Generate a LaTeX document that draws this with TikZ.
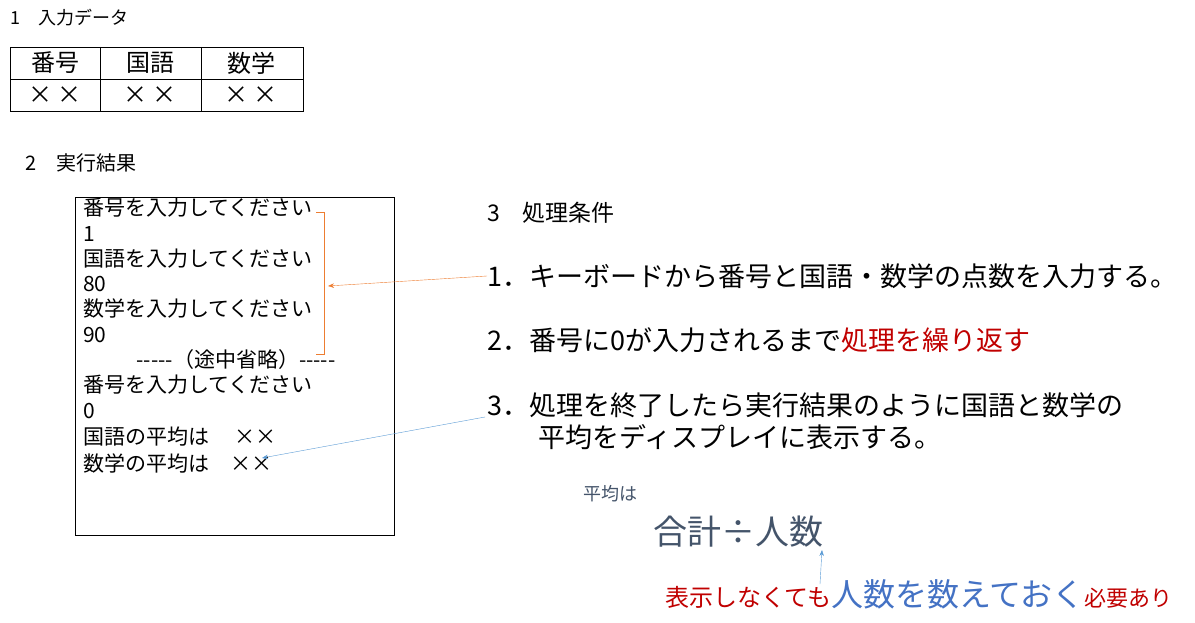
\documentclass[tikz,border=0pt]{standalone}
\usepackage{fontspec}
\setmainfont{Noto Sans CJK JP}
\usetikzlibrary{arrows.meta}
\definecolor{ored}{HTML}{C00000}
\definecolor{oorange}{HTML}{ED7D31}
\definecolor{oblue}{HTML}{5B9BD5}
\definecolor{tblue}{HTML}{4472C4}
\definecolor{slate}{HTML}{44546A}
\tikzset{t/.style={anchor=west,inner sep=0pt},
 fs/.style={font=\fontsize{#1}{#1}\selectfont}}
\begin{document}
\begin{tikzpicture}[x=1pt,y=-1pt]
\useasboundingbox (0,0) rectangle (1195,623);
% section 1
\node[t,fs=18] (h1) at (10,18) {1\quad 入力データ};
\draw (10,47) rectangle (303,111);
\draw (10,79) -- (303,79) (100,47) -- (100,111) (201,47) -- (201,111);
\foreach \x/\s in {55/番号,150/国語,251/数学}{\node[fs=24] at (\x,63) {\s};\node[fs=24] at (\x,95) {× ×};}
% section 2
\node[t,fs=20] (h2) at (25,163) {2\quad 実行結果};
\draw (75,197) rectangle (394,535);
\foreach \y/\s in {208/番号を入力してください,234/1,259/国語を入力してください,284/80,309/数学を入力してください,335/90,385/番号を入力してください,411/0,437/国語の平均は\quad\ ××,463/数学の平均は\quad ××}
 \node[t,fs=21] at (83,\y) {\s};
\node[fs=21] at (236,360) {-{}-{}-{}-{}-（途中省略）-{}-{}-{}-{}-};
\draw[oorange] (316,212) -- (324,212) -- (324,354) -- (316,354);
\coordinate (br) at (328,286);
% section 3
\node[t,fs=23] (h3) at (487,213) {3\quad 処理条件};
\node[t,fs=27] (c1) at (487,276) {1．キーボードから番号と国語・数学の点数を入力する。};
\node[t,fs=27] (c2) at (487,340) {2．番号に0が入力されるまで\textcolor{ored}{処理を繰り返す}};
\node[t,fs=27] (c3) at (487,405) {3．処理を終了したら実行結果のように国語と数学の};
\node[t,fs=27] (c3b) at (538,437) {平均をディスプレイに表示する。};
\draw[oorange,-{Stealth[length=6pt]}] (c1.west) -- (br);
\coordinate (ave) at (262,458);
\draw[oblue,-{Stealth[length=6pt]}] (485,417) -- (ave);
\node[t,fs=18,text=slate] (avg) at (583,494) {平均は};
\node[t,fs=34,text=slate] (form) at (653,532) {合計÷人数};
\node[t] (bot) at (665,594) {\fontsize{24}{24}\selectfont\textcolor{ored}{表示しなくても}\fontsize{32}{32}\selectfont\textcolor{tblue}{人数を数えておく}\fontsize{22}{22}\selectfont\textcolor{ored}{必要あり}};
\draw[oblue,-{Stealth[length=6pt]}] (820,584) -- (822,550);
\end{tikzpicture}
\end{document}
